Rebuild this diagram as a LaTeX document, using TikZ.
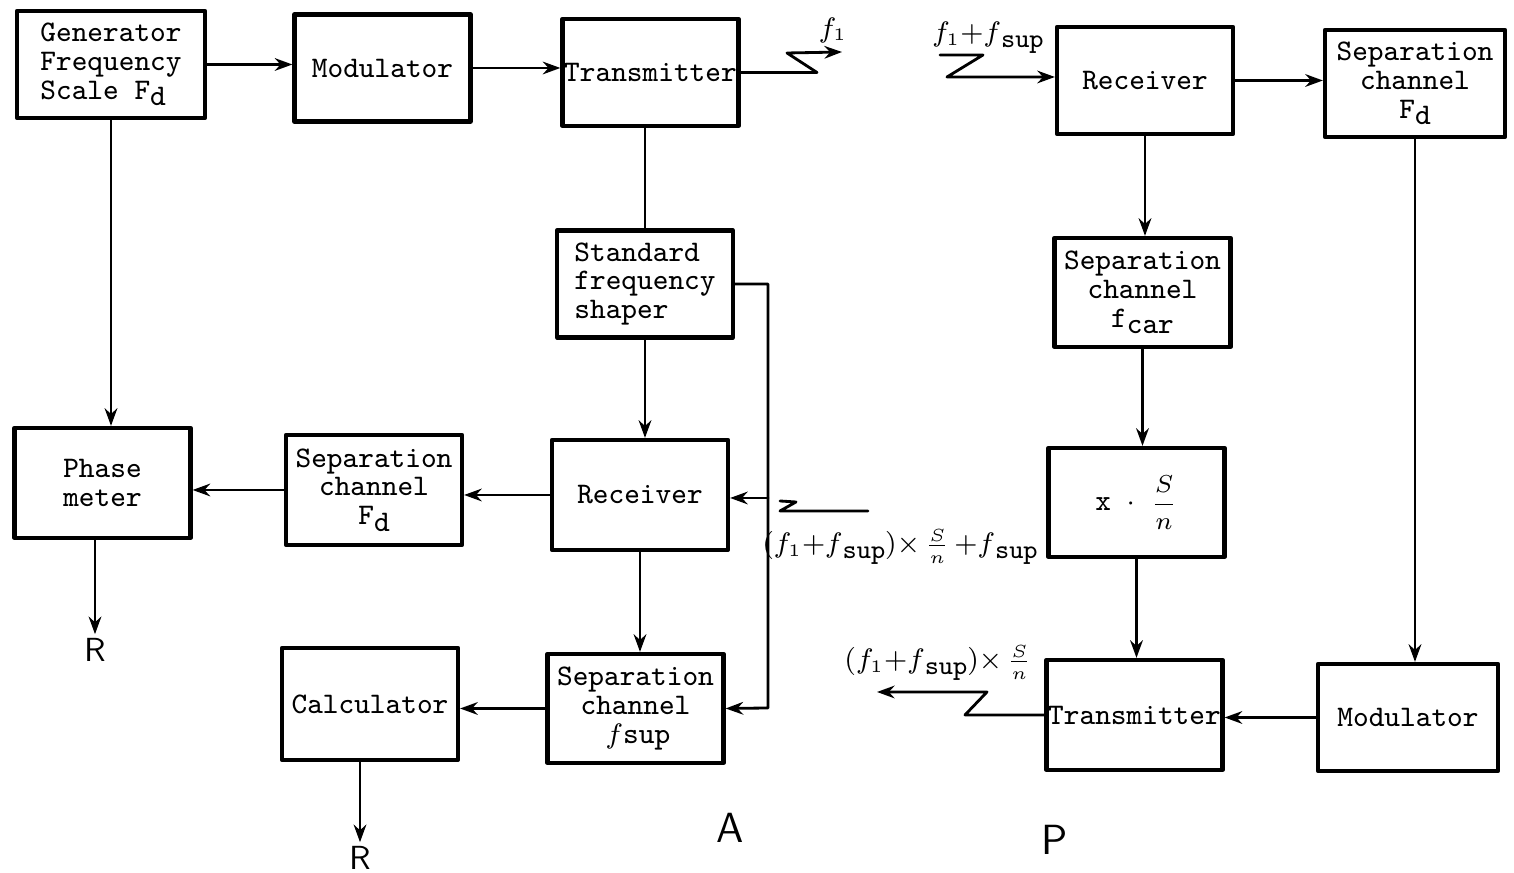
\documentclass[tikz,border=0pt]{standalone}
\usepackage{amsmath,amssymb}
\usetikzlibrary{arrows.meta,positioning,calc}

\newcommand{\dn}[1]{\raisebox{-0.5ex}{\ttfamily #1}}

\begin{document}
\begin{tikzpicture}[line cap=round, line join=round,
    blk/.style={draw, line width=1.2pt, minimum width=1.76cm, minimum height=1.07cm,
      inner sep=0.5pt, align=center, font=\ttfamily\fontsize{8.5}{8.2}\selectfont},
    conn/.style={line width=0.8pt},
    arr/.style={conn, -{Stealth[length=5pt,width=3.6pt]}},
    lbl/.style={inner sep=0pt, font=\fontsize{7.6}{8}\selectfont},
    outp/.style={inner sep=1pt, font=\sffamily\fontsize{9.5}{10}\selectfont}]
    \useasboundingbox (0,0) rectangle (15.14,-8.73);
    % station A
    \node[blk, minimum width=1.88cm, align=left] (gen) at (1.11,-0.645) {Generator\\Frequency\\Scale F\dn{d}};
    \node[blk] (modA) at (3.825,-0.68) {Modulator};
    \node[blk] (txA) at (6.505,-0.725) {Transmitter};
    \node[blk, align=left] (shaper) at (6.45,-2.84) {Standard\\frequency\\shaper};
    \node[blk, minimum height=1.10cm] (rxA) at (6.40,-4.95) {Receiver};
    \node[blk, minimum height=1.10cm] (sepFdA) at (3.74,-4.90) {Separation\\channel\\F\dn{d}};
    \node[blk, minimum height=1.10cm] (phase) at (1.025,-4.83) {Phase\\meter};
    \node[blk, minimum height=1.12cm] (calc) at (3.70,-7.04) {Calculator};
    \node[blk, minimum height=1.09cm] (sepSup) at (6.355,-7.085) {Separation\\channel\\\,$f$sup};
    % station B
    \node[blk] (rxB) at (11.45,-0.805) {Receiver};
    \node[blk, minimum width=1.80cm] (sepFdB) at (14.15,-0.835) {Separation\\channel\\F\dn{d}};
    \node[blk, minimum height=1.09cm] (sepCar) at (11.425,-2.925) {Separation\\channel\\f\dn{car}};
    \node[blk, minimum height=1.09cm] (mult) at (11.365,-5.025) {x $\cdot$ {\fontsize{6.8}{7}\selectfont$\dfrac{S}{n}$}};
    \node[blk, minimum height=1.10cm] (txB) at (11.345,-7.15) {Transmitter};
    \node[blk, minimum width=1.80cm] (modB) at (14.08,-7.175) {Modulator};

    % links of A
    \draw[arr] (gen.east) -- (gen.east -| modA.west);
    \draw[arr] (modA.east) -- (modA.east -| txA.west);
    \draw[conn] (shaper.north) -- (shaper.north |- txA.south);
    \draw[arr] (shaper.south) -- (shaper.south |- rxA.north);
    \draw[arr] (rxA.south) -- (rxA.south |- sepSup.north);
    \draw[arr] (rxA.west) -- (rxA.west -| sepFdA.east);
    \draw[arr] (sepFdA.west) -- (sepFdA.west -| phase.east);
    \draw[arr] (gen.south) -- (gen.south |- phase.north);
    \draw[arr] (sepSup.west) -- (sepSup.west -| calc.east);
    \coordinate (busTop) at (7.68,-2.84);
    \coordinate (busBot) at (7.68,-7.08);
    \coordinate (tapA) at (7.68,-4.98);
    \draw[arr] (shaper.east) -- (busTop) -- (busBot) -- (sepSup.east);
    \draw[arr] (tapA) -- (tapA -| rxA.east);

    % aerials
    \coordinate (zA1) at (8.17,-0.725);
    \coordinate (zA2) at (7.87,-0.53);
    \coordinate (zA3) at (8.42,-0.52);
    \draw[arr] (txA.east) -- (zA1) -- (zA2) -- (zA3);
    \coordinate (zB1) at (9.40,-0.55);
    \coordinate (zB2) at (9.83,-0.55);
    \coordinate (zB3) at (9.47,-0.77);
    \draw[arr] (zB1) -- (zB2) -- (zB3) -- (zB3 -| rxB.west);
    \coordinate (zC1) at (7.80,-5.01);
    \coordinate (zC2) at (7.96,-5.02);
    \coordinate (zC3) at (7.80,-5.11);
    \coordinate (zC4) at (8.68,-5.11);
    \draw[conn] (zC1) -- (zC2) -- (zC3) -- (zC4);
    \coordinate (zD1) at (9.65,-7.15);
    \coordinate (zD2) at (9.87,-6.92);
    \coordinate (zD3) at (8.77,-6.92);
    \draw[arr] (txB.west) -- (zD1) -- (zD2) -- (zD3);

    % links of B
    \draw[arr] (rxB.east) -- (rxB.east -| sepFdB.west);
    \draw[arr] (rxB.south) -- (rxB.south |- sepCar.north);
    \draw[arr] (sepCar.south) -- (sepCar.south |- mult.north);
    \draw[arr] (mult.south) -- (mult.south |- txB.north);
    \draw[arr] (sepFdB.south) -- (sepFdB.south |- modB.north);
    \draw[arr] (modB.west) -- (modB.west -| txB.east);

    % signal labels
    \node[lbl] (lf1) at (8.33,-0.30) {$f_1$};
    \node[lbl] (lfB) at (9.88,-0.38) {$f_1{+}f$\dn{sup}};
    \node[lbl] (lfA) at (9.00,-5.47) {$(f_1{+}f$\dn{sup}$){\times}\,\frac{S}{n}\,{+}f$\dn{sup}};
    \node[lbl] (lfD) at (9.38,-6.63) {$(f_1{+}f$\dn{sup}$){\times}\,\frac{S}{n}$};

    % outputs
    \node[outp] (outR1) at (0.95,-6.50) {R};
    \node[outp] (outR2) at (3.60,-8.58) {R};
    \draw[arr] (phase.south -| outR1) -- (outR1.north);
    \draw[arr] (calc.south -| outR2) -- (outR2.north);
    \node[font=\sffamily\fontsize{12}{12}\selectfont] (stA) at (7.30,-8.28) {A};
    \node[font=\sffamily\fontsize{12}{12}\selectfont] (stB) at (10.55,-8.40) {P};
\end{tikzpicture}
\end{document}
